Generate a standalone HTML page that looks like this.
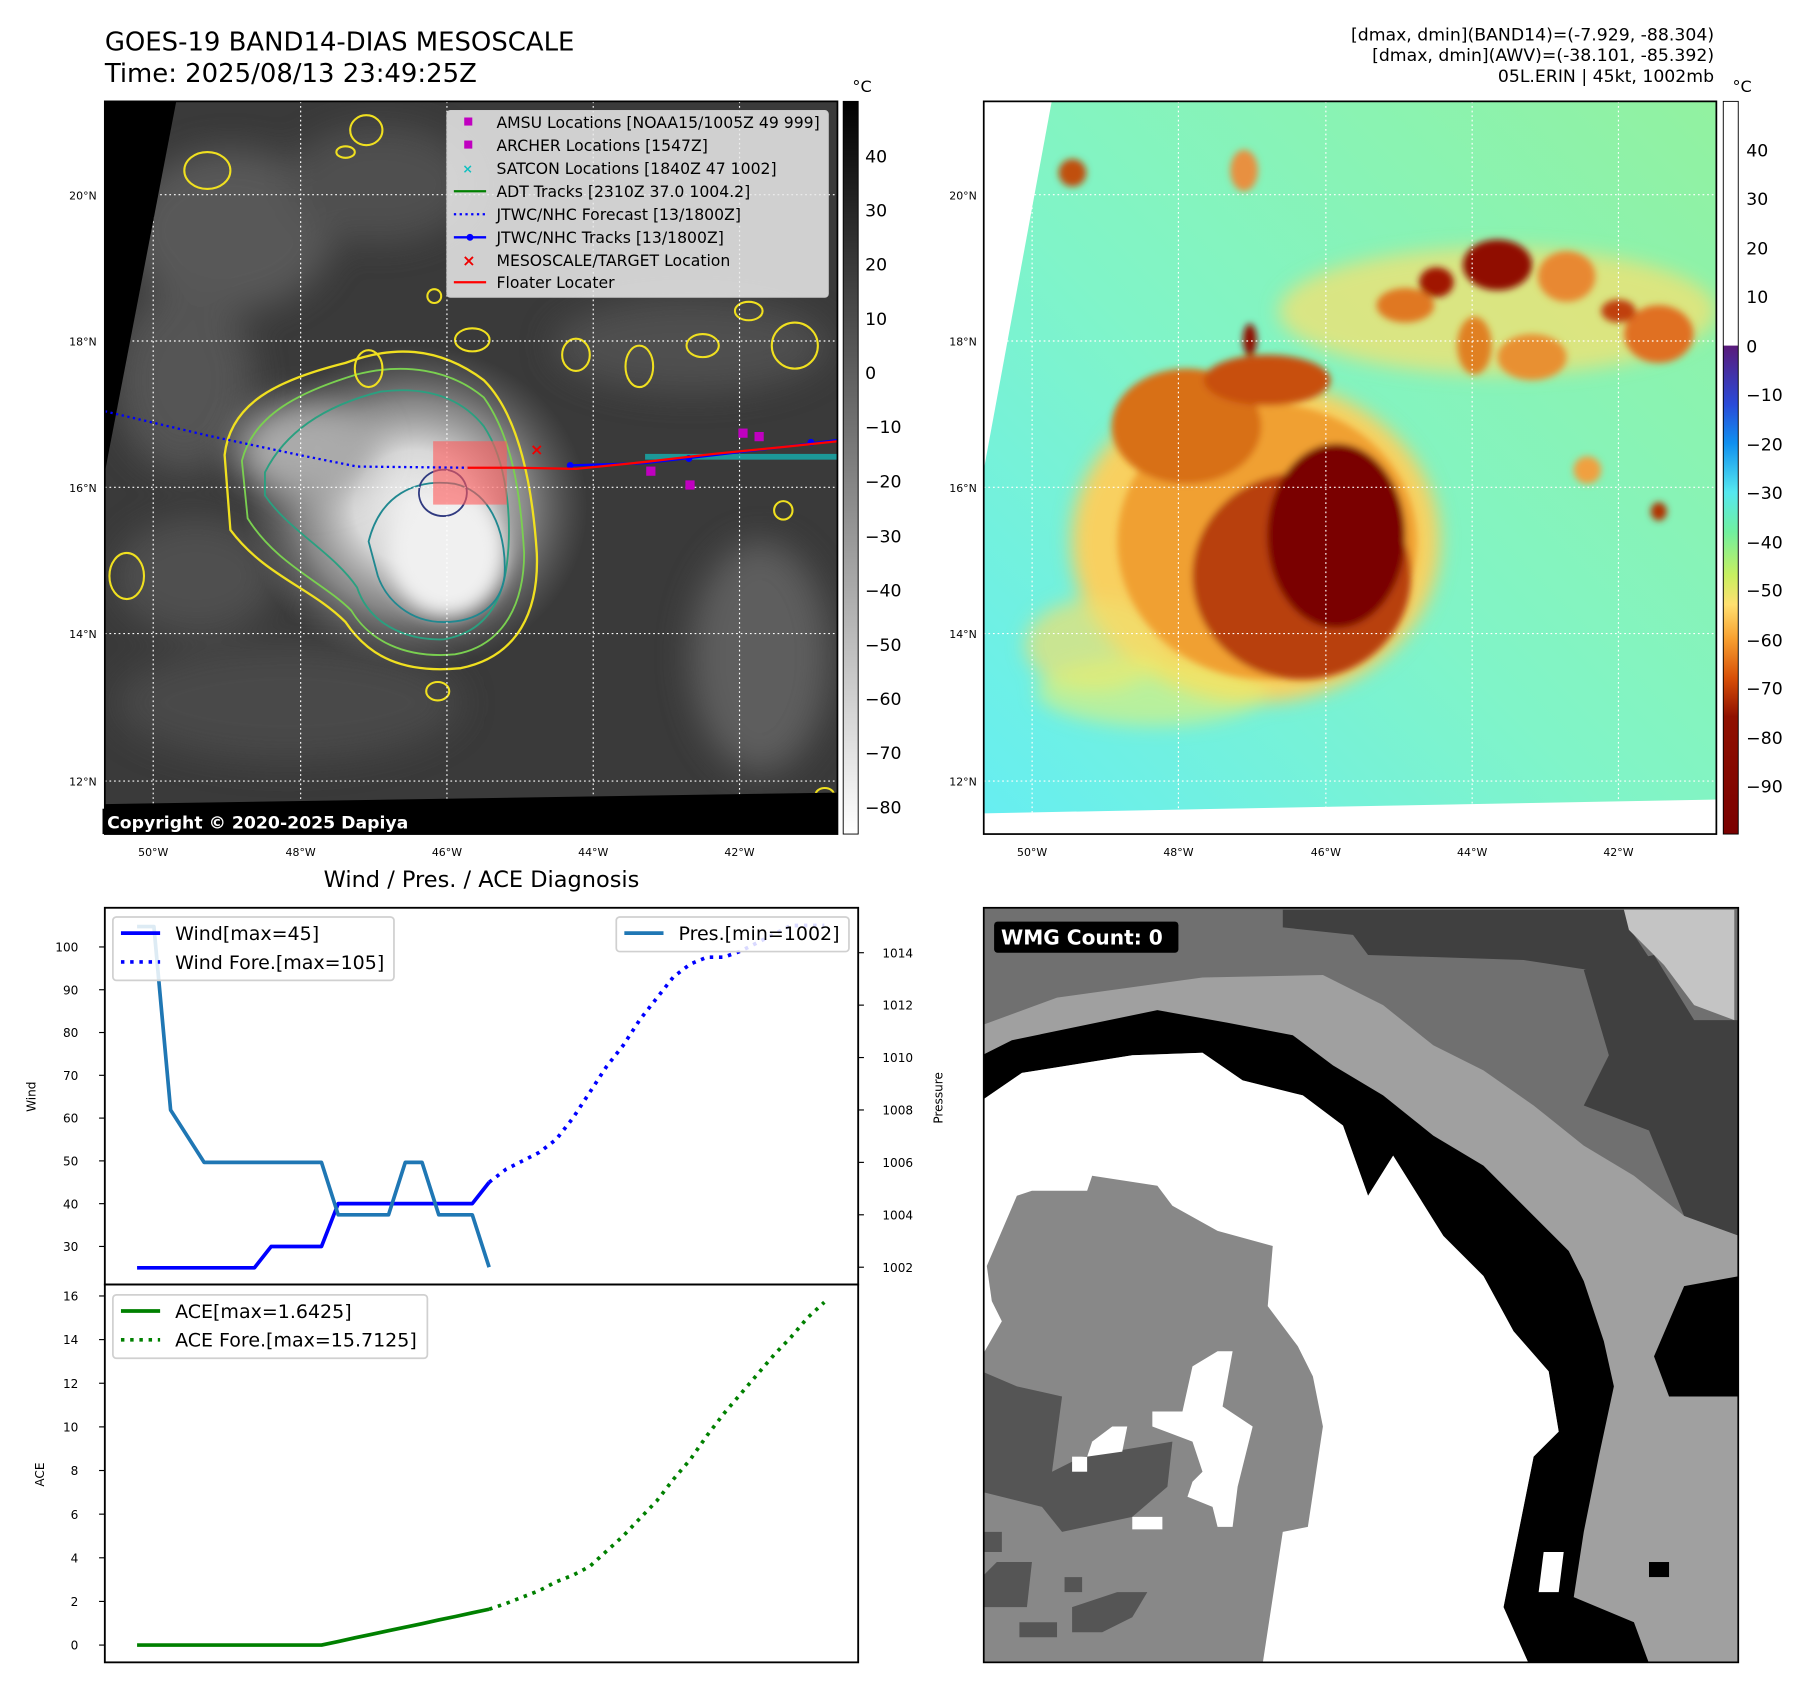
<!DOCTYPE html>
<html><head><meta charset="utf-8">
<style>
html,body{margin:0;padding:0;background:#fff;}
svg{display:block;font-family:"DejaVu Sans","Liberation Sans",sans-serif;}
</style></head>
<body>
<svg id="root" width="1797" height="1690" viewBox="0 0 1560 1467" preserveAspectRatio="none" xmlns="http://www.w3.org/2000/svg">
<defs>
  <filter id="b3" x="-50%" y="-50%" width="200%" height="200%"><feGaussianBlur stdDeviation="3"/></filter>
  <filter id="b8" x="-50%" y="-50%" width="200%" height="200%"><feGaussianBlur stdDeviation="8"/></filter>
  <filter id="b15" x="-50%" y="-50%" width="200%" height="200%"><feGaussianBlur stdDeviation="15"/></filter>
  <clipPath id="clipTL"><rect x="91" y="88" width="636" height="636"/></clipPath>
  <clipPath id="clipTR"><rect x="854" y="88" width="636" height="636"/></clipPath>
  <clipPath id="clipBR"><rect x="854" y="788" width="655" height="655"/></clipPath>
  <radialGradient id="cloudG" cx="0.5" cy="0.5" r="0.5">
    <stop offset="0" stop-color="#eeeeee"/><stop offset="0.35" stop-color="#d8d8d8"/>
    <stop offset="0.65" stop-color="#9a9a9a" stop-opacity="0.8"/><stop offset="1" stop-color="#707070" stop-opacity="0"/>
  </radialGradient>
  <linearGradient id="trBg" x1="0" y1="1" x2="1" y2="0">
    <stop offset="0" stop-color="#66eef2"/><stop offset="0.45" stop-color="#80f4c8"/><stop offset="1" stop-color="#92f2a0"/>
  </linearGradient>
  <linearGradient id="cbGray" x1="0" y1="0" x2="0" y2="1">
    <stop offset="0" stop-color="#000"/><stop offset="1" stop-color="#fff"/>
  </linearGradient>
  <linearGradient id="cbColor" x1="0" y1="0" x2="0" y2="1">
    <stop offset="0" stop-color="#5a1a7a"/><stop offset="0.12" stop-color="#2a4ad8"/><stop offset="0.2" stop-color="#1090f0"/>
    <stop offset="0.3" stop-color="#55e8f0"/><stop offset="0.38" stop-color="#70f0a0"/><stop offset="0.47" stop-color="#c8f060"/>
    <stop offset="0.53" stop-color="#ffe070"/><stop offset="0.6" stop-color="#f8a030"/><stop offset="0.68" stop-color="#d85008"/>
    <stop offset="0.76" stop-color="#901000"/><stop offset="1" stop-color="#7a0000"/>
  </linearGradient>
</defs>

<!-- Titles -->
<text x="91" y="44" font-size="22.5">GOES-19 BAND14-DIAS MESOSCALE</text>
<text x="91" y="71" font-size="22.5">Time: 2025/08/13 23:49:25Z</text>
<text x="1488" y="35" font-size="15" text-anchor="end">[dmax, dmin](BAND14)=(-7.929, -88.304)</text>
<text x="1488" y="53" font-size="15" text-anchor="end">[dmax, dmin](AWV)=(-38.101, -85.392)</text>
<text x="1488" y="71" font-size="15" text-anchor="end">05L.ERIN | 45kt, 1002mb</text>

<!-- ===== TOP-LEFT MAP ===== -->
<g clip-path="url(#clipTL)">
  <rect x="91" y="88" width="636" height="636" fill="#3a3a3a"/>
  <g filter="url(#b15)" opacity="0.8">
    <ellipse cx="200" cy="200" rx="90" ry="70" fill="#606060"/>
    <ellipse cx="330" cy="160" rx="80" ry="50" fill="#555"/>
    <ellipse cx="160" cy="330" rx="60" ry="80" fill="#5c5c5c"/>
    <ellipse cx="660" cy="570" rx="60" ry="100" fill="#686868"/>
    <ellipse cx="600" cy="300" rx="120" ry="40" fill="#555"/>
    <ellipse cx="250" cy="610" rx="150" ry="50" fill="#4e4e4e"/>
    <ellipse cx="170" cy="500" rx="70" ry="50" fill="#555"/>
  </g>
  <ellipse cx="360" cy="440" rx="150" ry="140" fill="url(#cloudG)"/>
  <ellipse cx="265" cy="390" rx="60" ry="40" fill="#aaaaaa" filter="url(#b15)"/>
  <ellipse cx="388" cy="480" rx="50" ry="55" fill="#f0f0f0" filter="url(#b8)"/>
  <path d="M195,395 C200,350 240,330 300,315 C340,300 380,300 420,330 C450,360 462,420 466,480 C468,530 450,570 400,580 C350,585 320,570 300,540 C270,510 230,500 200,460 Z" fill="none" stroke="#f0e020" stroke-width="2"/>
  <path d="M210,400 C220,360 260,340 310,325 C350,315 390,320 420,345 C445,380 452,430 455,480 C455,520 440,560 395,568 C350,572 320,555 305,530 C280,505 240,490 215,450 Z" fill="none" stroke="#7ad050" stroke-width="1.6"/>
  <path d="M230,410 C250,370 290,350 330,340 C370,335 400,345 420,370 C440,400 445,450 440,490 C435,530 415,550 385,555 C350,556 320,540 310,510 C290,480 250,460 230,430 Z" fill="none" stroke="#2aa080" stroke-width="1.6"/>
  <path d="M320,470 C330,430 360,415 395,420 C430,428 440,470 438,500 C435,525 415,540 385,540 C355,540 335,520 328,500 Z" fill="none" stroke="#208890" stroke-width="1.6"/>
  <path d="M365,420 C372,405 395,403 403,418 C410,432 400,448 385,448 C370,448 360,435 365,420 Z" fill="none" stroke="#303a80" stroke-width="1.6"/>
  <g fill="none" stroke="#f0e020" stroke-width="1.8">
    <ellipse cx="318" cy="113" rx="14" ry="13"/><ellipse cx="180" cy="148" rx="20" ry="16"/><ellipse cx="300" cy="132" rx="8" ry="5"/>
    <ellipse cx="320" cy="320" rx="12" ry="16"/><ellipse cx="410" cy="295" rx="15" ry="10"/><ellipse cx="500" cy="308" rx="12" ry="14"/>
    <ellipse cx="555" cy="318" rx="12" ry="18"/><ellipse cx="610" cy="300" rx="14" ry="10"/><ellipse cx="690" cy="300" rx="20" ry="20"/>
    <ellipse cx="680" cy="443" rx="8" ry="8"/><ellipse cx="110" cy="500" rx="15" ry="20"/><ellipse cx="380" cy="600" rx="10" ry="8"/>
    <ellipse cx="650" cy="270" rx="12" ry="8"/><ellipse cx="377" cy="257" rx="6" ry="6"/><ellipse cx="716" cy="690" rx="8" ry="6"/>
  </g>
  <g stroke="#fff" stroke-width="1" stroke-dasharray="1.5 2.5">
    <line x1="133" y1="88" x2="133" y2="724"/><line x1="261" y1="88" x2="261" y2="724"/><line x1="388" y1="88" x2="388" y2="724"/><line x1="515" y1="88" x2="515" y2="724"/><line x1="642" y1="88" x2="642" y2="724"/>
    <line x1="91" y1="169" x2="727" y2="169"/><line x1="91" y1="296" x2="727" y2="296"/><line x1="91" y1="423" x2="727" y2="423"/><line x1="91" y1="550" x2="727" y2="550"/><line x1="91" y1="678" x2="727" y2="678"/>
  </g>
  <polygon points="91,88 153,88 91,410" fill="#000"/>
  <polygon points="91,698 727,688 727,724 91,724" fill="#000"/>
  <rect x="376" y="383" width="64" height="55" fill="rgba(255,90,90,0.6)"/>
  <polyline points="91,357 180,378 260,395 310,405 406,406" fill="none" stroke="#0000ff" stroke-width="2" stroke-dasharray="2 3"/>
  <g fill="#10c0c0"><rect x="560" y="394" width="167" height="5" opacity="0.7"/></g>
  <polyline points="495,404 560,402 620,395 680,388 727,382" fill="none" stroke="#0000ff" stroke-width="2"/>
  <circle cx="495" cy="404" r="3" fill="#00f"/><circle cx="598" cy="398" r="3" fill="#00f"/><circle cx="704" cy="384" r="3" fill="#00f"/>
  <polyline points="406,406 450,406 500,407 560,401 620,394 680,388 727,383" fill="none" stroke="#ff0000" stroke-width="2"/>
  <text x="466" y="395" font-size="14" fill="#ee0000" text-anchor="middle" font-weight="bold">×</text>
  <g fill="#c000c0"><rect x="561" y="405" width="8" height="8"/><rect x="595" y="417" width="8" height="8"/><rect x="641" y="372" width="8" height="8"/><rect x="655" y="375" width="8" height="8"/></g>
</g>
<rect x="91" y="88" width="636" height="636" fill="none" stroke="#000" stroke-width="1.5"/>
<rect x="89" y="702" width="270" height="22" fill="#000"/>
<text x="93" y="719" font-size="15" font-weight="bold" fill="#fff">Copyright © 2020-2025 Dapiya</text>

<g font-size="13.6">
  <rect x="388" y="96" width="331" height="162" rx="3" fill="rgba(235,235,235,0.85)" stroke="#ccc"/>
  <rect x="403" y="102" width="7" height="7" fill="#c000c0"/><text x="431" y="111">AMSU Locations [NOAA15/1005Z 49 999]</text>
  <rect x="403" y="122" width="7" height="7" fill="#c000c0"/><text x="431" y="131">ARCHER Locations [1547Z]</text>
  <text x="406" y="150" fill="#10c0c0" text-anchor="middle" font-weight="bold" font-size="11">×</text><text x="431" y="151">SATCON Locations [1840Z 47 1002]</text>
  <line x1="394" y1="166" x2="422" y2="166" stroke="#008000" stroke-width="2"/><text x="431" y="171">ADT Tracks [2310Z 37.0 1004.2]</text>
  <line x1="394" y1="186" x2="422" y2="186" stroke="#0000ff" stroke-width="2" stroke-dasharray="2 3"/><text x="431" y="191">JTWC/NHC Forecast [13/1800Z]</text>
  <line x1="394" y1="206" x2="422" y2="206" stroke="#0000ff" stroke-width="2"/><circle cx="408" cy="206" r="3" fill="#00f"/><text x="431" y="211">JTWC/NHC Tracks [13/1800Z]</text>
  <text x="407" y="231" fill="#ee0000" text-anchor="middle" font-weight="bold" font-size="14">×</text><text x="431" y="231">MESOSCALE/TARGET Location</text>
  <line x1="394" y1="245" x2="422" y2="245" stroke="#ff0000" stroke-width="2"/><text x="431" y="250">Floater Locater</text>
</g>

<g font-size="9.5" text-anchor="end">
  <text x="84" y="173">20°N</text><text x="84" y="300">18°N</text><text x="84" y="427">16°N</text><text x="84" y="554">14°N</text><text x="84" y="682">12°N</text>
</g>
<g font-size="9.5" text-anchor="middle">
  <text x="133" y="743">50°W</text><text x="261" y="743">48°W</text><text x="388" y="743">46°W</text><text x="515" y="743">44°W</text><text x="642" y="743">42°W</text>
</g>
<rect x="732" y="88" width="13" height="636" fill="url(#cbGray)" stroke="#000" stroke-width="0.8"/>
<text x="740" y="80" font-size="14">°C</text>
<g font-size="15">
  <text x="751" y="141">40</text><text x="751" y="188">30</text><text x="751" y="235">20</text><text x="751" y="282">10</text><text x="751" y="329">0</text>
  <text x="751" y="376">−10</text><text x="751" y="423">−20</text><text x="751" y="471">−30</text><text x="751" y="518">−40</text><text x="751" y="565">−50</text>
  <text x="751" y="612">−60</text><text x="751" y="659">−70</text><text x="751" y="706">−80</text>
</g>

<!-- ===== TOP-RIGHT MAP ===== -->
<g clip-path="url(#clipTR)">
  <rect x="854" y="88" width="636" height="636" fill="url(#trBg)"/>
  <g filter="url(#b8)">
    <ellipse cx="1300" cy="270" rx="190" ry="55" fill="#f6e070" opacity="0.75"/>
    <ellipse cx="1090" cy="470" rx="160" ry="140" fill="#f8d060"/>
    <ellipse cx="950" cy="560" rx="60" ry="40" fill="#f0e070" opacity="0.7"/>
    <ellipse cx="1000" cy="600" rx="100" ry="30" fill="#e8f070" opacity="0.6"/>
  </g>
  <g filter="url(#b3)">
    <ellipse cx="1100" cy="470" rx="130" ry="120" fill="#f0a030"/>
    <ellipse cx="1030" cy="370" rx="65" ry="50" fill="#d87018"/>
    <ellipse cx="1100" cy="330" rx="55" ry="22" fill="#c85010"/>
    <ellipse cx="1130" cy="500" rx="95" ry="90" fill="#b84010"/>
    <ellipse cx="1160" cy="465" rx="60" ry="80" fill="#7a0000"/>
    <ellipse cx="1300" cy="230" rx="30" ry="22" fill="#900800"/>
    <ellipse cx="1247" cy="245" rx="15" ry="13" fill="#a01800"/>
    <ellipse cx="1220" cy="265" rx="25" ry="15" fill="#e07820"/>
    <ellipse cx="1360" cy="240" rx="25" ry="22" fill="#e88830"/>
    <ellipse cx="1440" cy="290" rx="30" ry="25" fill="#e07020"/>
    <ellipse cx="1405" cy="270" rx="15" ry="10" fill="#c04010"/>
    <ellipse cx="1330" cy="310" rx="30" ry="20" fill="#e89030"/>
    <ellipse cx="1280" cy="300" rx="15" ry="25" fill="#e08020"/>
    <ellipse cx="1080" cy="148" rx="12" ry="18" fill="#e89040"/>
    <ellipse cx="931" cy="150" rx="12" ry="12" fill="#c05010"/>
    <ellipse cx="1378" cy="408" rx="12" ry="12" fill="#f0a040"/>
    <ellipse cx="1440" cy="444" rx="7" ry="8" fill="#b03000"/>
    <ellipse cx="1085" cy="295" rx="6" ry="14" fill="#901000"/>
  </g>
  <g stroke="#fff" stroke-width="1" stroke-dasharray="1.5 2.5">
    <line x1="896" y1="88" x2="896" y2="724"/><line x1="1023" y1="88" x2="1023" y2="724"/><line x1="1151" y1="88" x2="1151" y2="724"/><line x1="1278" y1="88" x2="1278" y2="724"/><line x1="1405" y1="88" x2="1405" y2="724"/>
    <line x1="854" y1="169" x2="1490" y2="169"/><line x1="854" y1="296" x2="1490" y2="296"/><line x1="854" y1="423" x2="1490" y2="423"/><line x1="854" y1="550" x2="1490" y2="550"/><line x1="854" y1="678" x2="1490" y2="678"/>
  </g>
  <polygon points="854,88 913,88 854,408" fill="#fff"/>
  <polygon points="854,706 1490,694 1490,724 854,724" fill="#fff"/>
</g>
<rect x="854" y="88" width="636" height="636" fill="none" stroke="#000" stroke-width="1.5"/>
<g font-size="9.5" text-anchor="end">
  <text x="848" y="173">20°N</text><text x="848" y="300">18°N</text><text x="848" y="427">16°N</text><text x="848" y="554">14°N</text><text x="848" y="682">12°N</text>
</g>
<g font-size="9.5" text-anchor="middle">
  <text x="896" y="743">50°W</text><text x="1023" y="743">48°W</text><text x="1151" y="743">46°W</text><text x="1278" y="743">44°W</text><text x="1405" y="743">42°W</text>
</g>
<g>
  <rect x="1496" y="88" width="13" height="212" fill="#fff"/>
  <rect x="1496" y="300" width="13" height="424" fill="url(#cbColor)"/>
  <rect x="1496" y="88" width="13" height="636" fill="none" stroke="#000" stroke-width="0.8"/>
</g>
<text x="1504" y="80" font-size="14">°C</text>
<g font-size="15">
  <text x="1516" y="136">40</text><text x="1516" y="178">30</text><text x="1516" y="221">20</text><text x="1516" y="263">10</text><text x="1516" y="306">0</text>
  <text x="1516" y="348">−10</text><text x="1516" y="391">−20</text><text x="1516" y="433">−30</text><text x="1516" y="476">−40</text><text x="1516" y="518">−50</text>
  <text x="1516" y="561">−60</text><text x="1516" y="603">−70</text><text x="1516" y="646">−80</text><text x="1516" y="688">−90</text>
</g>

<!-- ===== BOTTOM-RIGHT WMG ===== -->
<g clip-path="url(#clipBR)">
 <g transform="translate(852.3,785.4) scale(0.4355)">
  <rect x="0" y="0" width="1510" height="1512" fill="#a0a0a0"/>
  <polygon fill="#707070" points="0,0 1510,0 1510,660 1400,620 1300,540 1200,480 1100,400 1000,330 900,280 800,200 680,140 440,145 150,185 0,240"/>
  <polygon fill="#404040" points="600,10 1280,10 1300,60 1340,120 1210,130 1080,110 770,100 740,60 600,45"/>
  <polygon fill="#404040" points="1200,130 1340,100 1420,230 1510,230 1510,660 1400,620 1330,450 1200,400 1250,300"/>
  <polygon fill="#c4c4c4" points="1280,10 1500,10 1500,230 1420,200 1360,120 1290,50"/>
  <polygon fill="#000" points="0,300 60,270 350,210 490,235 620,260 700,320 800,380 900,460 1000,520 1100,620 1170,690 1200,750 1240,870 1260,960 1230,1100 1200,1250 1180,1380 1300,1430 1330,1512 1090,1512 1040,1400 1060,1300 1100,1100 1150,1050 1130,930 1060,850 1000,740 920,660 870,580 820,500 770,580 720,440 640,380 520,350 440,295 300,300 80,335 0,390"/>
  <polygon fill="#000" points="1400,760 1510,740 1510,980 1370,980 1340,900"/>
  <polygon fill="#fff" points="0,390 80,335 300,300 440,295 520,350 640,380 720,440 770,580 820,500 870,580 920,660 1000,740 1060,850 1130,930 1150,1050 1100,1100 1060,1300 1040,1400 1090,1512 0,1512"/>
  <polygon fill="#888" points="10,720 70,580 100,570 210,570 220,540 350,560 380,600 470,650 580,680 570,800 630,880 660,940 680,1040 650,1240 600,1250 560,1512 0,1512 0,900 40,830 20,790"/>
  <g fill="#555">
    <polygon points="0,930 70,960 160,980 140,1130 200,1100 380,1070 370,1160 300,1220 160,1250 120,1200 0,1170"/>
    <polygon points="0,1250 40,1250 40,1290 0,1290"/>
    <polygon points="30,1310 100,1310 90,1400 0,1400 0,1340"/>
    <polygon points="180,1400 270,1370 330,1370 300,1420 240,1450 180,1450"/>
    <polygon points="75,1430 150,1430 150,1460 75,1460"/>
    <polygon points="165,1340 200,1340 200,1370 165,1370"/>
  </g>
  <g fill="#fff">
    <polygon points="420,920 470,890 500,890 480,1000 540,1040 510,1160 500,1240 470,1240 460,1200 410,1180 420,1150 440,1130 420,1070 340,1040 340,1010 400,1010"/>
    <polygon points="220,1070 260,1040 290,1040 280,1090 210,1100"/>
    <polygon points="180,1100 210,1100 210,1130 180,1130"/>
    <polygon points="300,1220 360,1220 360,1245 300,1245"/>
    <polygon points="1120,1290 1160,1290 1150,1370 1110,1370"/>
  </g>
  <rect x="1330" y="1310" width="40" height="30" fill="#000"/>
 </g>
</g>
<rect x="854" y="788" width="655" height="655" fill="none" stroke="#000" stroke-width="1.5"/>
<rect x="863" y="800" width="160" height="27" rx="3" fill="#000"/>
<text x="869" y="820" font-size="17.5" font-weight="bold" fill="#fff">WMG Count: 0</text>

<!-- ===== BOTTOM-LEFT CHART ===== -->
<text x="418" y="770" font-size="19.5" text-anchor="middle">Wind / Pres. / ACE Diagnosis</text>
<g id="chart"></g>
</svg>

<script>
// ---- data ----
const obsSteps = [0,1,2,3,4,5,6,7,8,9,10,11,12,13,14,15,16,17,18,19,20,21];
const windObs = [25,25,25,25,25,25,25,25,30,30,30,30,40,40,40,40,40,40,40,40,40,45];
const presObs = [1015,1015,1008,1007,1006,1006,1006,1006,1006,1006,1006,1006,1004,1004,1004,1004,1006,1006,1004,1004,1004,1002];
const aceObs = [0,0,0,0,0,0,0,0,0,0,0,0,0.16,0.33,0.49,0.66,0.82,0.98,1.15,1.31,1.48,1.6425];
const foreSteps = [21,22,23,24,25,26,27,28,29,30,31,32,33,34,35,36,37,38,39,40,41];
const windFore = [45,48,50,52,55,60,66,72,77,83,88,93,96,97.6,97.6,99,101,103,105,105,105];
const aceFore = [1.6425,1.9,2.2,2.5,2.9,3.2,3.6,4.3,5.0,5.8,6.6,7.6,8.5,9.6,10.6,11.5,12.4,13.3,14.1,15.0,15.7125];
const windTicks = [30,40,50,60,70,80,90,100];
const presTicks = [1002,1004,1006,1008,1010,1012,1014];
const aceTicks = [0,2,4,6,8,10,12,14,16];

// ---- axes ----
const xS = i => 119 + i * 14.55;
const yWind = w => 822 + (100 - w) * 3.714;
const yPres = p => 1100 - (p - 1002) * 22.75;
const yAce = a => 1428 - a * 18.94;

const NS = 'http://www.w3.org/2000/svg';
const chart = document.getElementById('chart');
function mk(tag, attrs, parent) {
  const e = document.createElementNS(NS, tag);
  for (const k in attrs) e.setAttribute(k, attrs[k]);
  (parent || chart).appendChild(e);
  return e;
}
function poly(xs, ys, fx, fy, stroke, w, dash, name) {
  const pts = xs.map((x, i) => xS(x).toFixed(1) + ',' + fy(ys[i]).toFixed(1)).join(' ');
  const e = mk('polyline', {points: pts, fill: 'none', stroke: stroke, 'stroke-width': w, 'stroke-linejoin': 'round'});
  if (dash) e.setAttribute('stroke-dasharray', dash);
  
  
  return e;
}
function txt(x, y, s, size, anchor, name, rot) {
  const e = mk('text', {x: x, y: y, 'font-size': size, 'text-anchor': anchor || 'start'});
  if (rot) e.setAttribute('transform', 'rotate(-90 ' + x + ' ' + y + ')');
  e.textContent = s;
  
  
  return e;
}

windTicks.forEach(v => {
  const y = yWind(v);
  const l = mk('line', {x1: 86, x2: 91, y1: y, y2: y, stroke: '#000', 'stroke-width': 1});
  
  
  txt(68, y + 4, String(v), 10.5, 'end', 'wind-tick-label');
});
presTicks.forEach(v => {
  const y = yPres(v);
  const l = mk('line', {x1: 745, x2: 750, y1: y, y2: y, stroke: '#000', 'stroke-width': 1});
  
  
  txt(766, y + 4, String(v), 10.5, 'start', 'pressure-tick-label');
});
aceTicks.forEach(v => {
  const y = yAce(v);
  const l = mk('line', {x1: 86, x2: 91, y1: y, y2: y, stroke: '#000', 'stroke-width': 1});
  
  
  txt(68, y + 4, String(v), 10.5, 'end', 'ace-tick-label');
});
txt(31, 952, 'Wind', 10.5, 'middle', 'wind-axis-title', true);
txt(818, 953, 'Pressure', 10.5, 'middle', 'pressure-axis-title', true);
txt(38, 1280, 'ACE', 10.5, 'middle', 'ace-axis-title', true);

poly(foreSteps, windFore, xS, yWind, '#0000ff', 3.2, '3 5', 'wind-forecast-line');
poly(obsSteps, windObs, xS, yWind, '#0000ff', 3.2, null, 'wind-line');
poly(obsSteps, presObs, xS, yPres, '#1f77b4', 3.2, null, 'pressure-line');
poly(foreSteps, aceFore, xS, yAce, '#008000', 3.2, '3 5', 'ace-forecast-line');
poly(obsSteps, aceObs, xS, yAce, '#008000', 3.2, null, 'ace-line');

const f1 = mk('rect', {x: 91, y: 788, width: 654, height: 327, fill: 'none', stroke: '#000', 'stroke-width': 1.6});


const f2 = mk('rect', {x: 91, y: 1115, width: 654, height: 328, fill: 'none', stroke: '#000', 'stroke-width': 1.6});



function legendBox(x, y, w, h, name) {
  const r = mk('rect', {x: x, y: y, width: w, height: h, rx: 3, fill: 'rgba(255,255,255,0.85)', stroke: '#d0d0d0', 'stroke-width': 1.5});
  
  
}
function legendLine(x, y, color, dash, label, name) {
  const l = mk('line', {x1: x, x2: x + 34, y1: y, y2: y, stroke: color, 'stroke-width': 3.2});
  if (dash) l.setAttribute('stroke-dasharray', dash);
  
  
  txt(x + 47, y + 6, label, 16.5, 'start', name);
}
legendBox(98, 796, 244, 55, 'wind-legend');
legendLine(105, 810, '#0000ff', null, 'Wind[max=45]', 'legend-wind');
legendLine(105, 835, '#0000ff', '3 5', 'Wind Fore.[max=105]', 'legend-wind-forecast');
legendBox(535, 796, 202, 30, 'pressure-legend');
legendLine(542, 810, '#1f77b4', null, 'Pres.[min=1002]', 'legend-pressure');
legendBox(98, 1124, 273, 55, 'ace-legend');
legendLine(105, 1138, '#008000', null, 'ACE[max=1.6425]', 'legend-ace');
legendLine(105, 1163, '#008000', '3 5', 'ACE Fore.[max=15.7125]', 'legend-ace-forecast');
</script>
</body></html>
